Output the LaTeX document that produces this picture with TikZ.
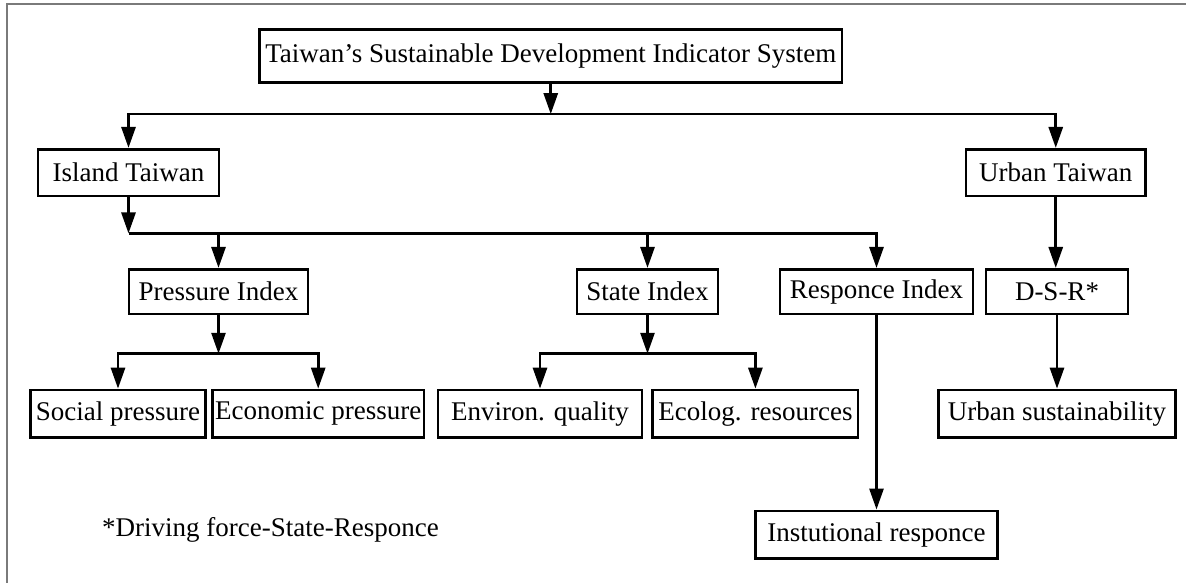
\documentclass[tikz,border=0pt]{standalone}
\usepackage{fontspec}
\setmainfont{Liberation Serif}
\usetikzlibrary{arrows.meta,calc}
\tikzset{
  box/.style={draw=black, line width=2.8pt, fill=white, inner sep=1pt,
    font=\fontsize{27pt}{32pt}\selectfont, anchor=center},
  arr/.style={draw=black, line width=2.8pt, line join=miter,
    -{Triangle[length=21pt,width=14pt]}},
  frameline/.style={draw=black!52, line width=2.2pt},
}
\begin{document}
\begin{tikzpicture}[x=1pt,y=-1pt]
\useasboundingbox (0,0) rectangle (1186,583);
\draw[frameline] (7,583) -- (7,4) -- (1186,4);

% nodes
\node[box, minimum width=582.5pt, minimum height=53pt] (top) at (550.75,55.8) {Taiwan’s Sustainable Development Indicator System};
\node[box, minimum width=181pt, minimum height=46.7pt] (island) at (128.5,172.7) {Island Taiwan};
\node[box, minimum width=179.5pt, minimum height=46.7pt] (urban) at (1055.75,172.7) {Urban Taiwan};
\node[box, minimum width=179pt, minimum height=44.7pt] (pressure) at (218.5,291.7) {Pressure Index};
\node[box, minimum width=141pt, minimum height=44.7pt] (state) at (647.5,291.7) {State Index};
\node[box, minimum width=193pt, minimum height=44.7pt] (responce) at (876.5,291.7) {Responce Index};
\node[box, minimum width=142pt, minimum height=44.7pt] (dsr) at (1057,291.7) {D-S-R*};
\node[box, minimum width=175pt, minimum height=47.3pt] (social) at (118,413.7) {Social pressure};
\node[box, minimum width=211.6pt, minimum height=47.3pt] (econ) at (318.2,413.7) {Economic pressure};
\node[box, minimum width=204pt, minimum height=47.3pt] (environ) at (540,413.7) {Environ. quality};
\node[box, minimum width=205.3pt, minimum height=47.3pt] (ecolog) at (755.4,413.7) {Ecolog. resources};
\node[box, minimum width=236.3pt, minimum height=47.3pt] (urbsus) at (1057,413.7) {Urban sustainability};
\node[box, minimum width=242pt, minimum height=47.7pt] (inst) at (876.5,534.8) {Instutional responce};
\node[font=\fontsize{27pt}{32pt}\selectfont, inner sep=0pt, anchor=west] (note) at (102,530) {*Driving force-State-Responce};

% connectors
\draw[arr] (top.south) -- ++(0,30.4) coordinate (j1);
\draw[arr] (j1) -| (island.north);
\draw[arr] (j1) -| (urban.north);

\draw[arr] (island.south) -- ++(0,36) coordinate (j2);
\draw[arr] (j2) -| (pressure.north);
\draw[arr] (j2) -| (state.north);
\draw[arr] (j2) -| (responce.north);

\draw[arr] (urban.south) -- (urban.south |- dsr.north);

\draw[arr] (pressure.south) -- ++(0,38.3) coordinate (j3);
\draw[arr] (j3) -| (social.north);
\draw[arr] (j3) -| (econ.north);

\draw[arr] (state.south) -- ++(0,38.3) coordinate (j4);
\draw[arr] (j4) -| (environ.north);
\draw[arr] (j4) -| (ecolog.north);

\draw[arr] (responce.south) -- (inst.north);
\draw[arr] (dsr.south) -- (urbsus.north);
\end{tikzpicture}
\end{document}
